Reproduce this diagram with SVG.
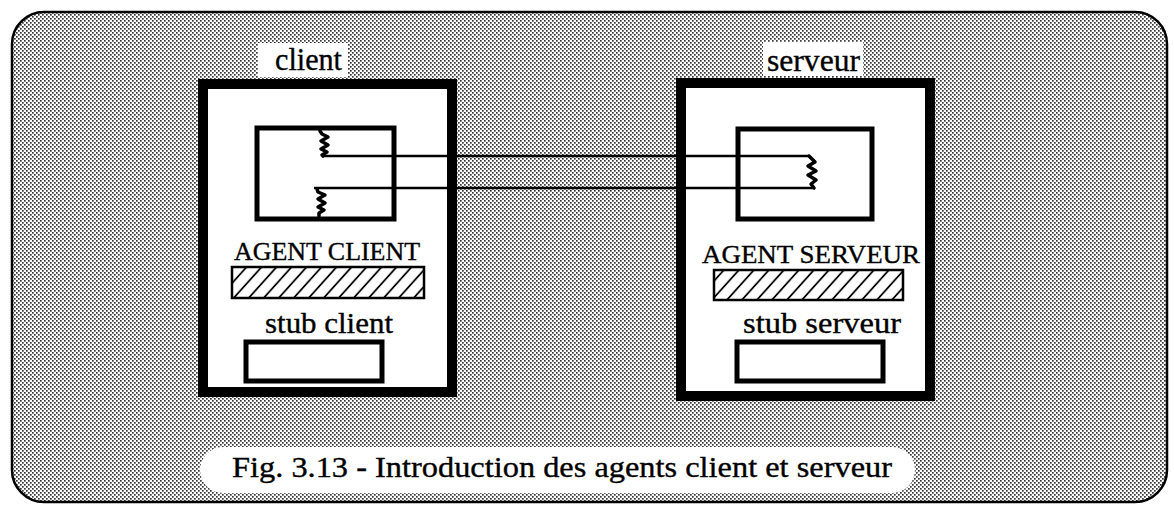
<svg xmlns="http://www.w3.org/2000/svg" width="1174" height="505" viewBox="0 0 1174 505">
  <defs>
    <pattern id="dots" width="4" height="4" patternUnits="userSpaceOnUse">
      <rect width="4" height="4" fill="#ffffff"/>
      <rect x="0" y="0" width="1.7" height="1.7" fill="#3a3a3a"/>
      <rect x="2" y="2" width="1.7" height="1.7" fill="#3a3a3a"/>
    </pattern>
    <pattern id="hatch" width="15" height="40" patternUnits="userSpaceOnUse" patternTransform="skewX(-42)">
      <rect width="15" height="40" fill="#fff"/>
      <line x1="7" y1="0" x2="7" y2="40" stroke="#000" stroke-width="2.4"/>
    </pattern>
    <style>
      .lbl { font-family: "Liberation Serif", "Times New Roman", serif; fill: #000; stroke: #000; stroke-width: 0.35; }
      .box { fill: #fff; stroke: #000; }
      .thick { stroke-width: 10; }
      .mid { stroke-width: 5; }
      .hbar { fill: url(#hatch); stroke: #000; stroke-width: 2.5; }
      .conn { fill: none; stroke: #000; stroke-width: 2.5; }
      .spring { fill: none; stroke: #000; stroke-width: 3.5; stroke-linejoin: round; stroke-linecap: round; }
    </style>
  </defs>

  <rect width="1174" height="505" fill="#fff"/>
  <g id="frame">
    <rect x="12" y="12" width="1155" height="490" rx="32" ry="32" fill="url(#dots)" stroke="#000" stroke-width="2.5"/>
  </g>

  <g id="client">
    <rect x="258" y="43" width="90" height="34" fill="#fff"/>
    <text class="lbl" x="275" y="70" font-size="31" textLength="67" lengthAdjust="spacingAndGlyphs">client</text>
    <rect class="box thick" x="203" y="84" width="249" height="308"/>
    <rect class="box mid" x="257" y="128" width="137" height="91"/>
    <text class="lbl" x="234" y="260" font-size="25" textLength="186" lengthAdjust="spacingAndGlyphs">AGENT CLIENT</text>
    <rect class="hbar" x="232" y="267" width="192" height="31"/>
    <text class="lbl" x="265" y="333" font-size="30" textLength="128" lengthAdjust="spacingAndGlyphs">stub client</text>
    <rect class="box mid" x="246" y="342" width="136" height="39"/>
  </g>

  <g id="serveur">
    <rect x="763" y="42" width="100" height="34" fill="#fff"/>
    <text class="lbl" x="767" y="71" font-size="31" textLength="93" lengthAdjust="spacingAndGlyphs">serveur</text>
    <rect class="box thick" x="681" y="83" width="249" height="313"/>
    <rect class="box mid" x="738" y="129" width="134" height="90"/>
    <text class="lbl" x="702" y="263" font-size="25" textLength="218" lengthAdjust="spacingAndGlyphs">AGENT SERVEUR</text>
    <rect class="hbar" x="714" y="270" width="189" height="30"/>
    <text class="lbl" x="743" y="333" font-size="30" textLength="158" lengthAdjust="spacingAndGlyphs">stub serveur</text>
    <rect class="box mid" x="737" y="342" width="146" height="39"/>
  </g>

  <g id="connectors">
    <path class="spring" d="M320,131 L322,134 L328,137 L321,141 L328,145 L321,149 L327,152 L322,155 L323,156"/>
    <path class="conn" d="M322,156 L810,156"/>
    <path class="spring" d="M317,189 L318,192 L325,195 L318,199 L325,203 L318,207 L324,210 L319,213 L319,216"/>
    <path class="conn" d="M314,188 L815,188"/>
    <path class="spring" d="M809,156 L815,162 L808,166 L816,171 L808,175 L816,180 L811,184 L814,188"/>
  </g>

  <g id="caption">
    <rect x="200" y="447" width="715" height="46" rx="23" ry="23" fill="#fff"/>
    <text class="lbl" x="232" y="477" font-size="29" textLength="660" lengthAdjust="spacingAndGlyphs">Fig. 3.13 - Introduction des agents client et serveur</text>
  </g>
</svg>
